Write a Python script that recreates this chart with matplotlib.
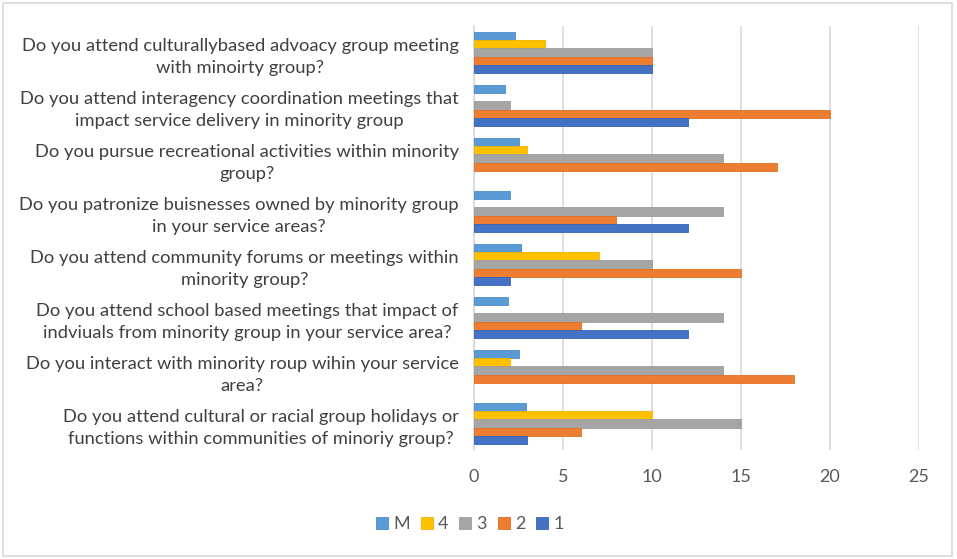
import matplotlib
matplotlib.use('Agg')
import matplotlib.pyplot as plt
import numpy as np

# survey questions, top to bottom
questions = [
    'Do you attend culturallybased advoacy group meeting\nwith minoirty group?',
    'Do you attend interagency coordination meetings that\nimpact service delivery in minority group',
    'Do you pursue recreational activities within minority\ngroup?',
    'Do you patronize buisnesses owned by minority group\nin your service areas?',
    'Do you attend community forums or meetings within\nminority group?',
    'Do you attend school based meetings that impact of\nindviuals from minority group in your service area?',
    'Do you interact with minority roup wihin your service\narea?',
    'Do you attend cultural or racial group holidays or\nfunctions within communities of minoriy group?',
]

# responses per series (same order as questions)
resp_M = [2.3, 1.75, 2.55, 2.0, 2.65, 1.9, 2.5, 2.9]
resp_4 = [4, 0, 3, 0, 7, 0, 2, 10]
resp_3 = [10, 2, 14, 14, 10, 14, 14, 15]
resp_2 = [10, 20, 17, 8, 15, 6, 18, 6]
resp_1 = [10, 12, 0, 12, 2, 12, 0, 3]

series_names = ['M', '4', '3', '2', '1']
series_vals = [resp_M, resp_4, resp_3, resp_2, resp_1]
colors = ['#5B9BD5', '#FFC000', '#A5A5A5', '#ED7D31', '#4472C4']
edges = ['#4A8BCB', '#F0B400', '#9C9C9C', '#E0701F', '#3462B8']

plt.rcParams['font.family'] = ['Lato', 'DejaVu Sans']

fig = plt.figure(figsize=(9.57, 5.59), dpi=100)
ax = fig.add_axes([474/957, 1-450/559, (919-474)/957, (450-26)/559])

y = np.arange(len(questions))
h = 0.155
for k, (name, vals) in enumerate(zip(series_names, series_vals)):
    lw = [0.6 if v > 0 else 0 for v in vals]
    ax.barh(y + (k - 2) * h, vals, height=h, color=colors[k],
            edgecolor=edges[k], linewidth=lw, label=name, zorder=3)

ax.set_xlim(0, 25)
ax.set_ylim(len(questions) - 0.5, -0.5)
ax.set_xticks([0, 5, 10, 15, 20, 25])
ax.set_yticks(y)
ax.set_yticklabels(questions, fontsize=13.2, color='#404040', linespacing=1.45)
for lbl in ax.get_yticklabels():
    lbl.set_multialignment('center')
ax.tick_params(axis='y', length=0, pad=11)
ax.tick_params(axis='x', length=0, labelsize=13, labelcolor='#595959', pad=14)
ax.grid(axis='x', color='#D9D9D9', linewidth=1.2, zorder=0)
for s in ['top', 'right', 'bottom']:
    ax.spines[s].set_visible(False)
ax.spines['left'].set_color('#D9D9D9')
ax.spines['left'].set_linewidth(1.2)

leg = fig.legend(loc='center', bbox_to_anchor=(470/957, 1-524/559), ncol=5,
                 frameon=False, fontsize=13, handlelength=0.65, handleheight=0.65,
                 handletextpad=0.3, columnspacing=0.6)
for t in leg.get_texts():
    t.set_color('#595959')

# outer chart border
fig.patches.append(plt.Rectangle((3/957, 3/559), 949/957, 553/559, transform=fig.transFigure,
                                 fill=False, edgecolor='#D9D9D9', linewidth=1.2))

fig.savefig('out.png', dpi=100, facecolor='white')
